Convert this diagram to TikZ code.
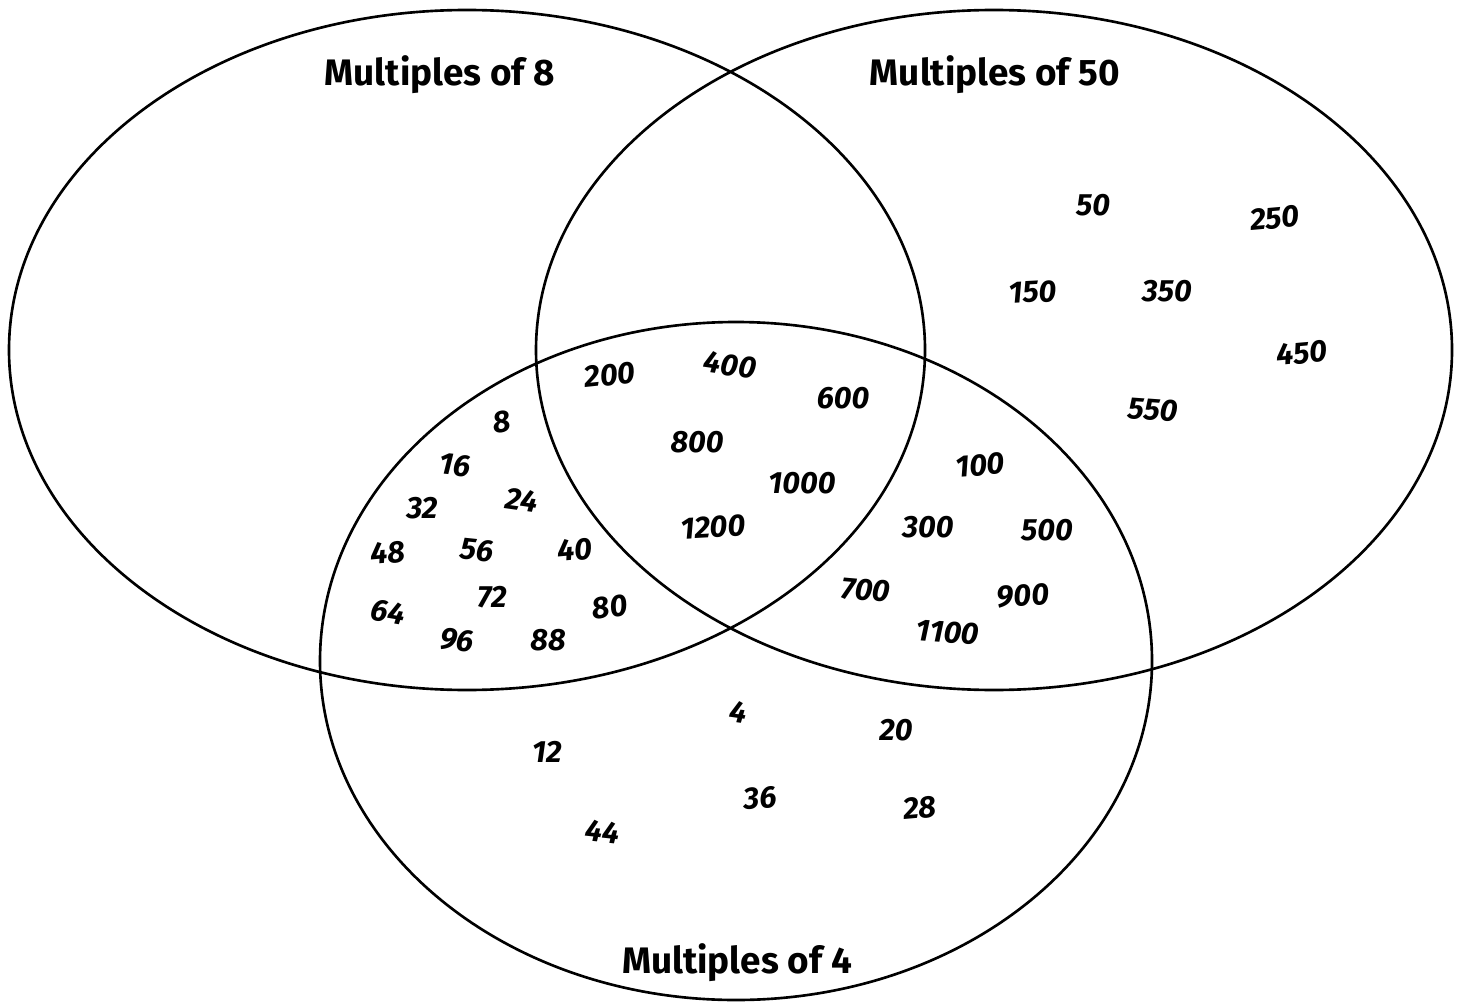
\documentclass[tikz,border=0pt]{standalone}
\usepackage{fontspec}
\setmainfont{Fira Sans}
\usepackage{tikz}
\tikzset{set/.style={draw=black,line width=1.5pt}}
\tikzset{title/.style={font=\fontsize{21}{24}\selectfont\bfseries}}
\tikzset{num/.style={font=\fontsize{17.5}{20}\selectfont\bfseries\itshape,inner sep=1pt}}

\begin{document}
\begin{tikzpicture}[x=0.02cm,y=-0.02cm]
  \useasboundingbox (0,0) rectangle (1462,1003);
  \draw [set] (467,350) ellipse [x radius=458,y radius=340];
  \draw [set] (994,350) ellipse [x radius=458,y radius=340];
  \draw [set] (736,661) ellipse [x radius=416,y radius=339];
  \node [title] (M8) at (440,75) {Multiples of 8};
  \node [title] (M50) at (995,75) {Multiples of 50};
  \node [title] (M4) at (737,963) {Multiples of 4};
  % multiples of 8 and 4
  \node [num,rotate=8] (n8) at (502,422) {8};
  \node [num,rotate=-6] (n16) at (455,465) {16};
  \node [num] (n32) at (422,508) {32};
  \node [num,rotate=-8] (n24) at (522,500) {24};
  \node [num,rotate=5] (n48) at (388,553) {48};
  \node [num,rotate=-6] (n56) at (477,550) {56};
  \node [num,rotate=5] (n40) at (575,550) {40};
  \node [num] (n72) at (492,597) {72};
  \node [num,rotate=-10] (n64) at (388,612) {64};
  \node [num,rotate=-6] (n96) at (457,640) {96};
  \node [num] (n88) at (548,640) {88};
  \node [num,rotate=8] (n80) at (610,607) {80};
  % all three
  \node [num,rotate=6] (n200) at (610,375) {200};
  \node [num,rotate=-8] (n400) at (730,365) {400};
  \node [num] (n600) at (843,398) {600};
  \node [num] (n800) at (697,442) {800};
  \node [num] (n1000) at (802,483) {1000};
  \node [num,rotate=3] (n1200) at (713,527) {1200};
  % multiples of 50 and 4
  \node [num,rotate=4] (n100) at (980,465) {100};
  \node [num] (n300) at (928,527) {300};
  \node [num] (n500) at (1047,530) {500};
  \node [num,rotate=-5] (n700) at (866,590) {700};
  \node [num,rotate=4] (n900) at (1023,596) {900};
  \node [num,rotate=-4] (n1100) at (948,632) {1100};
  % multiples of 50 only
  \node [num] (n50) at (1093,205) {50};
  \node [num,rotate=5] (n250) at (1275,218) {250};
  \node [num,rotate=3] (n150) at (1033,292) {150};
  \node [num] (n350) at (1167,291) {350};
  \node [num,rotate=5] (n450) at (1302,353) {450};
  \node [num,rotate=-4] (n550) at (1153,410) {550};
  % multiples of 4 only
  \node [num,rotate=-8] (n4) at (738,712) {4};
  \node [num] (n20) at (896,730) {20};
  \node [num] (n12) at (547,752) {12};
  \node [num,rotate=4] (n36) at (760,798) {36};
  \node [num,rotate=5] (n28) at (920,808) {28};
  \node [num,rotate=-6] (n44) at (603,832) {44};
\end{tikzpicture}
\end{document}
